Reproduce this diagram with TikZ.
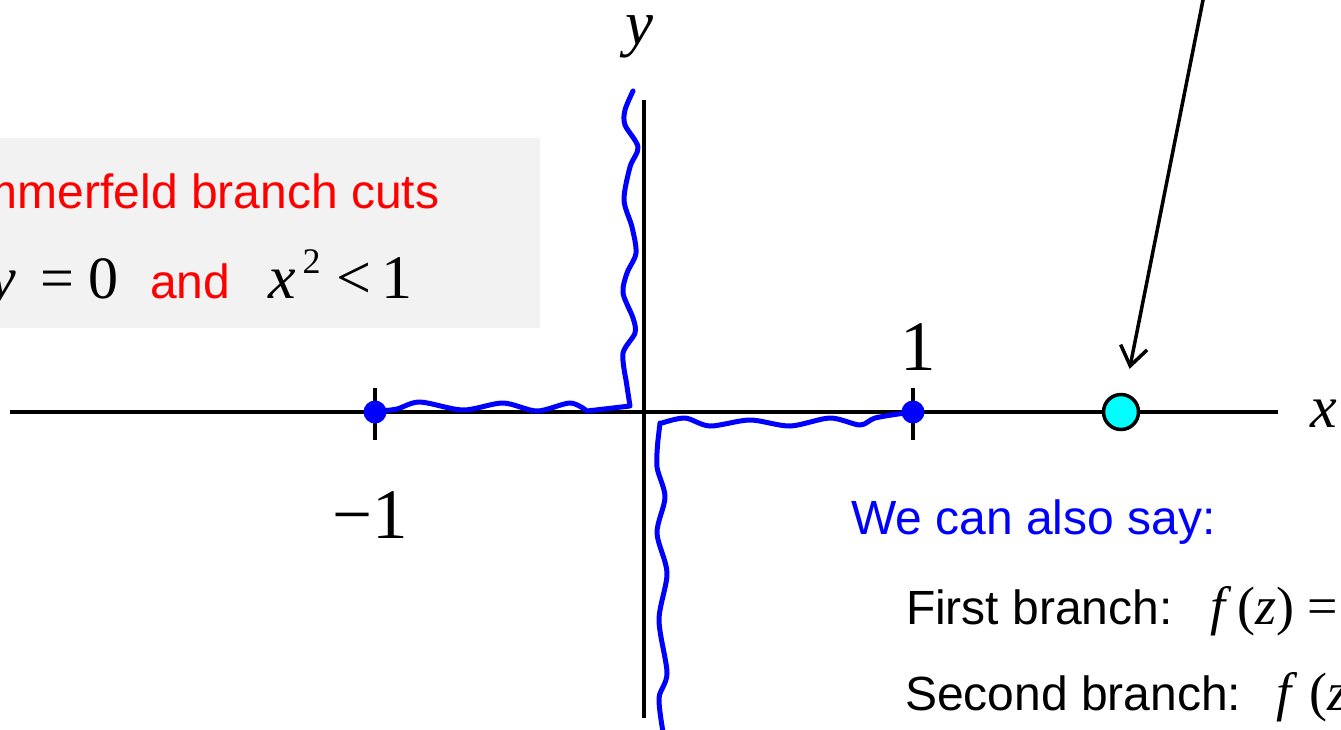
\documentclass[tikz,border=0pt]{standalone}
\usepackage{fontspec}
\setmainfont{Liberation Sans}
\newfontfamily\tnr{Liberation Serif}
\usepackage{tikz}
\usetikzlibrary{arrows.meta,positioning}
\definecolor{cutblue}{HTML}{0000FF}
\definecolor{cutred}{HTML}{FF0000}
\definecolor{panel}{HTML}{F2F2F2}
\definecolor{polecyan}{HTML}{00FFFF}
\tikzset {
    axisline/.style={draw, line width=3.5pt},
    cut/.style={draw=cutblue, line width=5pt, line join=round, line cap=round},
    endpt/.style={circle, fill=cutblue, minimum size=23pt, inner sep=0pt},
    pole/.style={circle, draw, fill=polecyan, line width=3.5pt,
        minimum size=35pt, inner sep=0pt, outer sep=0pt},
    lbl/.style={anchor=base west, inner sep=0pt, outer sep=0pt},
    sans/.style={lbl, font=\fontsize{48}{56}\selectfont},
    mathlbl/.style={inner sep=0pt, outer sep=0pt,
        font=\tnr\fontsize{71}{80}\selectfont},
    pointer/.style={draw, line width=3.5pt,
        -{Straight Barb[length=19pt, width=27pt, line width=3.5pt]}}
}

\begin{document}
\begin{tikzpicture}[x=1pt, y=-1pt]

        \useasboundingbox (0,0) rectangle (1341,729);
        \clip (0,0) rectangle (1341,729);

        % panel with the cut condition
        \fill[panel] (-10,138) rectangle (540,328);
        \node[sans, text=cutred] (title) at (-81,208) {Sommerfeld branch cuts};
        \node[lbl, font=\tnr\fontsize{60}{66}\selectfont] (cond1) at (-10,298)
            {{\itshape y}\hspace{24pt}=\hspace{14pt}0};
        \node[sans, text=cutred] (and) at (150,298) {and};
        \node[lbl, font=\tnr\fontsize{62}{66}\selectfont] (cond2) at (268,298)
            {{\itshape x}\hspace{7pt}\raisebox{25pt}{\fontsize{36}{36}\selectfont 2}\hspace{16pt}<\hspace{10pt}1};

        % axes
        \draw[axisline] (10,412) -- (1278,412);
        \draw[axisline] (644,100) -- (644,718);
        \draw[axisline] (375,388) -- (375,440);
        \draw[axisline] (913,388) -- (913,440);
        \node[mathlbl, anchor=base, font=\tnr\itshape\fontsize{63}{70}\selectfont] (ylab) at (639,44) {y};
        \node[mathlbl, anchor=base west, font=\tnr\itshape\fontsize{60}{66}\selectfont] (xlab) at (1310,427) {x};
        \node[mathlbl, anchor=base] (one) at (918,370) {1};
        \node[mathlbl, anchor=base] (mone) at (370,538) {−1};

        % branch points and cuts
        \node[endpt] (m1) at (375,412) {};
        \node[endpt] (p1) at (913,412) {};
        \draw[cut] (m1.center) -- plot[smooth] coordinates {(380,411) (397,409) (420,402)
            (463,410) (503,403) (537,411) (570,403) (587,411)} -- (630,406)
            -- plot[smooth] coordinates {(626,380) (623,353) (635,333) (633,318)
            (623,293) (627,273) (636,253) (632,227) (624,200) (630,167)
            (638,147) (625,125) (625,110) (633,91)};
        \draw[cut] (p1.center) -- plot[smooth] coordinates {(905,413) (875,418)
            (860,425) (830,418) (790,426) (750,420) (710,426) (685,418)
            (662,423)} -- (660,423)
            -- plot[smooth] coordinates {(658,440) (657,467) (665,497) (657,533)
            (667,573) (659,620) (667,673) (659,698) (663,732)};

        % pole and pointer
        \node[pole] (pole) at (1121,412) {};
        \coordinate (src) at (1205,-10);
        \draw[pointer, shorten >=44pt] (src) -- (pole.center);

        % remark
        \node[sans, text=cutblue] (also) at (851,534) {We can also say:};
        \node[sans] (first) at (906,624) {First branch:};
        \node[lbl, font=\tnr\fontsize{54}{60}\selectfont] (f1) at (1210,624)
            {{\itshape f}\hspace{12pt}({\itshape z})\hspace{14pt}=};
        \node[sans] (second) at (905,710) {Second branch:};
        \node[lbl, font=\tnr\fontsize{54}{60}\selectfont] (f2) at (1276,710)
            {{\itshape f}\hspace{18pt}({\itshape z})\hspace{14pt}=};

    \end{tikzpicture}
\end{document}
